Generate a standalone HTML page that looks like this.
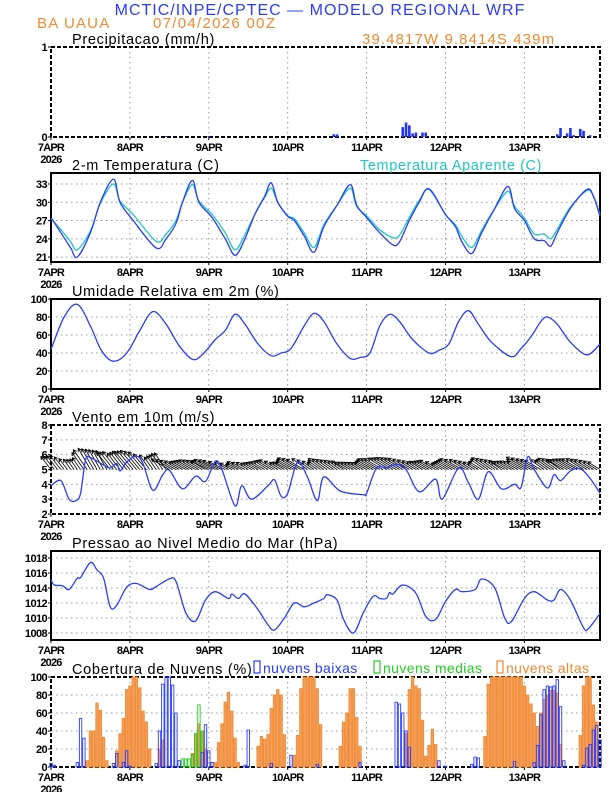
<!DOCTYPE html>
<html><head><meta charset="utf-8"><style>
html,body{margin:0;padding:0;background:#fff;}
svg{display:block;font-family:"Liberation Sans",sans-serif;}
</style></head><body>
<svg id="chart" width="612" height="792" viewBox="0 0 612 792" xmlns="http://www.w3.org/2000/svg">
<text x="320" y="15" text-anchor="middle" font-size="16" fill="#2a3cff" letter-spacing="1">MCTIC/INPE/CPTEC — MODELO REGIONAL WRF</text>
<text x="37" y="28" font-size="15" fill="#f08a30" letter-spacing="1.2">BA UAUA</text>
<text x="153" y="28" font-size="15" fill="#f08a30" letter-spacing="1.3">07/04/2026 00Z</text>
<text x="362" y="44" font-size="15" fill="#f08a30" letter-spacing="1.1">39.4817W 9.8414S 439m</text>
<g id="panels"></g>
</svg>
<script>
// ---------- data ----------
const precipHours=[35,48,86,87,107,108,109,110,111,113,114,154,155,157,158,159,161,162,164];
const precipVals=[0.01,0.01,0.03,0.03,0.11,0.16,0.13,0.04,0.05,0.05,0.05,0.03,0.10,0.04,0.10,0.02,0.09,0.07,0.02];

const tempHours=[0,3,6,8,12,15,19,21,25,32,35,38,40,43,45,49,53,56,59,62,65,67,69,72,74,77,80,83,87,91,93,96,100,104,106,109,112,115,120,123,125,128,131,135,139,141,144,147,150,152,154,158,163,165,167];
const tempVals=[27.5,25,22.5,21,25,30,33.8,30,27,22.5,24,26.5,30,33.6,30,27.5,24,21.3,24,28,31,33.2,30,27.7,27,24.5,21.8,26,29.5,32.9,29.5,27.5,25,23,23.5,27,30,32.2,28,26,23.5,21.6,25,29,32.6,29,27,24,23.7,22.8,25,29,32.1,31,27.7];
const appVals=[27.3,25.5,23.5,22.2,25.3,29.8,33.0,30.2,28,23.6,24.8,27,30,32.9,30.2,28,25,22.2,24.7,28,30.8,32.3,30,27.8,27.3,25,22.6,26.3,29.5,32.3,29.3,27.8,25.5,24.2,24.6,27.5,30.3,32.1,28,26.3,24.4,22.6,25.4,29,31.8,29.4,27.4,24.8,24.8,24,25.6,29.2,31.9,31,28];

const rhHours=[0,4,8,12,15,18,21,24,27,31,35,39,43,46,50,53,56,59,63,67,70,73,77,80,83,87,91,94,97,100,103,106,110,115,118,121,124,127,130,134,140,143,146,149,151,154,158,163,167];
const rhVals=[44,80,94,70,45,32,33,45,65,86,72,48,33,38,55,65,83,72,50,37,40,45,70,84,75,50,34,35,40,70,83,75,55,40,43,50,75,87,72,52,36,45,58,75,80,72,52,38,50];

const windHours=[0,3,5.5,7.6,9,10.5,12,16,18,20,21,23,26,28,31,34,36,40,44,47,50,52,56,58,61,66,68,70,72,75,78,81,83,88,95,96,99,102,105,108,112,117,119,124,127,130,133,137,141,143,145,147,151,153,155,158,161,164,167];
const windVals=[3.9,4.25,3.0,2.9,3.4,5.65,5.8,5.3,5.1,5.4,4.9,5.5,5.9,5.4,3.6,4.65,4.95,3.7,4.55,4.2,5.55,5.0,2.55,3.9,3.0,3.9,4.3,3.2,3.4,5.5,4.5,2.9,4.5,3.55,3.3,3.4,5.1,5.1,5.35,5.0,3.5,4.35,3.0,5.1,4.1,3.0,4.85,3.7,4.0,3.8,5.85,5.0,3.75,4.65,4.25,4.9,5.05,4.4,3.4];
const windDirDeg=[128,125,120,128,130,125,150,150,155,152,150,148,150,145,145,150,150,148,148,150,150,148,145,150,150,145,150,148]; // every 6h

const presHours=[0,1,3.5,5.5,8,9,12,14,16,18,20,23,26,30,32,36,38,41,44,47,50,54,55,57,59,63,66,68,71,74,77,80,83,84,87,89,92,95,98,100,102,103,104,107,111,114,117,120,123,125,129,131,135,138,140,144,147,151,153,155,158,162,163.5,167];
const presVals=[1015.1,1014.4,1014.3,1013.8,1015.3,1015.4,1017.4,1016.4,1015.3,1011.5,1011.7,1014.1,1014.6,1013.8,1014.2,1015.2,1014.9,1010.7,1009.6,1012.4,1013.5,1012.6,1013.2,1012.6,1013.2,1011.1,1009.1,1008.4,1010,1012,1011.5,1012,1012.6,1013.1,1012.4,1009.8,1008,1010.7,1012.9,1012.6,1012.6,1013.4,1013.2,1014.4,1013.3,1010.2,1009.8,1012.2,1013.8,1013.5,1013.8,1015.2,1014,1010,1009.5,1012.6,1013.5,1012.4,1012.4,1013.8,1012.4,1008.7,1008.6,1010.6];

const highHours=[11,12,13,14,15,16,17,20,21,22,23,24,25,26,27,28,29,30,33,34,43,44,45,46,47,50,51,52,53,54,55,56,57,63,64,65,66,67,68,69,70,71,74,75,76,77,78,79,80,81,82,88,89,90,91,92,93,94,108,109,110,111,112,113,114,115,116,117,132,133,134,135,136,137,138,139,140,141,142,143,144,145,146,147,148,149,150,151,152,153,154,155,161,162,163,164,165,166];
const highVals=[7,40,40,71,63,33,7,18,37,54,86,90,100,100,88,62,50,20,20,30,15,37,48,40,20,5,27,48,72,83,62,32,5,23,34,31,36,65,80,86,80,36,13,35,87,100,100,100,100,87,47,23,50,60,87,87,55,23,37,86,100,90,87,52,12,24,42,25,34,92,100,100,100,100,100,100,100,100,100,100,90,80,70,60,45,60,75,80,85,85,82,25,35,90,100,100,69,50];
const midHours=[40,41,42,43,44,45,46];
const midVals=[9,9,9,14,37,69,40];
const lowHours=[0,1,8,9,10,19,20,22,23,24,32,33,34,35,36,37,38,39,46,47,48,49,59,60,67,73,81,94,105,106,107,108,109,118,120,128,129,130,141,147,148,149,150,151,152,153,154,155,156,162,163,164,165,166,167];
const lowVals=[4,2,5,54,32,4,15,5,18,1,4,40,92,100,100,91,60,7,16,47,18,5,2,41,4,13,3,5,72,70,60,40,22,7,1,3,11,10,6,5,24,58,86,90,89,90,97,67,7,2,21,25,41,46,30];

const dayLabels=['7APR','8APR','9APR','10APR','11APR','12APR','13APR'];
const yTicksPrecip=[0,1], yTicksTemp=[21,24,27,30,33], yTicksRH=[0,20,40,60,80,100], yTicksWind=[2,3,4,5,6,7,8], yTicksPres=[1008,1010,1012,1014,1016,1018], yTicksCloud=[0,20,40,60,80,100];

// ---------- drawing ----------
const NS='http://www.w3.org/2000/svg';
const root=document.getElementById('panels');
const X0=51,X1=600;
function xs(h){return X0+h*(X1-X0)/167;}
function mk(tag,attrs,parent){const e=document.createElementNS(NS,tag);for(const k in attrs)e.setAttribute(k,attrs[k]);(parent||root).appendChild(e);return e;}
function ysFactory(top,bottom,vmin,vmax){return v=>bottom-(v-vmin)/(vmax-vmin)*(bottom-top);}

function panel(name,top,bottom,vmin,vmax,ticks,title,dashTop){
  const g=mk('g',{});
  
  
  const ys=ysFactory(top,bottom,vmin,vmax);
  for(let d=1;d<7;d++){const l=mk('line',{x1:xs(d*24),x2:xs(d*24),y1:top,y2:bottom,stroke:'#999','stroke-dasharray':'1.5,3.5','stroke-width':1},g);
    }
  ticks.forEach(t=>{const y=ys(t);
    if(t>vmin+1e-9&&t<vmax-1e-9){const l=mk('line',{x1:X0,x2:X1,y1:y,y2:y,stroke:'#999','stroke-dasharray':'1.5,3.5','stroke-width':1},g);
      }
    const tl=mk('text',{x:X0-4,y:y+4,'text-anchor':'end','font-size':11,'font-weight':'bold',fill:'#000','letter-spacing':'-0.6'},g);tl.textContent=t;
    
    mk('line',{x1:X0-3,x2:X0,y1:y,y2:y,stroke:'#000'},g);
  });
  const f=mk('rect',{x:X0,y:top,width:X1-X0,height:bottom-top,fill:'none',stroke:'#000','stroke-width':2},g);
  if(dashTop)f.setAttribute('stroke-dasharray','4,2');
  
  dayLabels.forEach((lab,i)=>{const x=xs(i*24);
    const t=mk('text',{x:x,y:bottom+14,'text-anchor':'middle','font-size':11,'font-weight':'bold','letter-spacing':'-0.8'},g);t.textContent=lab;
    
    mk('line',{x1:x,x2:x,y1:bottom,y2:bottom+3,stroke:'#000'},g);});
  const yr=mk('text',{x:X0,y:bottom+26,'text-anchor':'middle','font-size':11,'font-weight':'bold','letter-spacing':'-0.8'},g);yr.textContent='2026';
  
  const tt=mk('text',{x:72,y:top-3,'font-size':14.5,'letter-spacing':'0.7'},g);tt.textContent=title;
  
  return {g,ys};
}
function line(g,hours,vals,ys,color,name){
  const pts=hours.map((h,i)=>[xs(h),ys(vals[i])]);
  let d='M'+pts[0][0].toFixed(1)+','+pts[0][1].toFixed(1);
  for(let i=0;i<pts.length-1;i++){
    const p0=pts[Math.max(0,i-1)],p1=pts[i],p2=pts[i+1],p3=pts[Math.min(pts.length-1,i+2)];
    const c1=[p1[0]+(p2[0]-p0[0])/6,p1[1]+(p2[1]-p0[1])/6],c2=[p2[0]-(p3[0]-p1[0])/6,p2[1]-(p3[1]-p1[1])/6];
    d+=' C'+c1.map(v=>v.toFixed(1)).join(',')+' '+c2.map(v=>v.toFixed(1)).join(',')+' '+p2.map(v=>v.toFixed(1)).join(',');
  }
  const p=mk('path',{d:d,fill:'none',stroke:color,'stroke-width':1.3},g);
  
  
}

// precip
let P=panel('precipitation',47,137,0,1,yTicksPrecip,'Precipitacao (mm/h)',true);
precipHours.forEach((h,i)=>{const y=P.ys(precipVals[i]);
  const r=mk('rect',{x:xs(h)-1.3,y:y,width:2.6,height:137-y,fill:'#2233ff'},P.g);
  
  });

// temperature
let T=panel('temperature',173,262,20.2,34.8,yTicksTemp,'2-m Temperatura (C)',false);
line(T.g,tempHours,appVals,T.ys,'#1fc8c0','apparent-temp-line');
line(T.g,tempHours,tempVals,T.ys,'#2a3cff','temp-line');
const tl2=mk('text',{x:360,y:170,'font-size':14.5,fill:'#1fc8c0','letter-spacing':'0.6'},T.g);tl2.textContent='Temperatura Aparente (C)';



// RH
let R=panel('humidity',299,389,0,100,yTicksRH,'Umidade Relativa em 2m (%)',false);
line(R.g,rhHours,rhVals,R.ys,'#2a3cff','rh-line');

// wind
let W=panel('wind',425,514,2,8,yTicksWind,'Vento em 10m (m/s)',true);
for(let h=0;h<=167;h++){
  let k=0;while(k<windHours.length-2&&windHours[k+1]<h)k++;
  const t=(h-windHours[k])/(windHours[k+1]-windHours[k]);
  const sp=windVals[k]+(windVals[k+1]-windVals[k])*Math.max(0,Math.min(1,t));
  const dir=windDirDeg[Math.min(windDirDeg.length-1,Math.floor(h/6))]*Math.PI/180;
  const L=sp*4.2;
  const x0=xs(h),y0=W.ys(5);
  const x1=x0+L*Math.cos(dir),y1=y0-L*Math.sin(dir);
  const a=mk('line',{x1:x0,y1:y0,x2:x1,y2:y1,stroke:'#000','stroke-width':0.8},W.g);
  
  
  const ang=Math.atan2(y1-y0,x1-x0);
  const hd=mk('polyline',{points:[x1+3.5*Math.cos(ang+2.6),y1+3.5*Math.sin(ang+2.6),x1,y1,x1+3.5*Math.cos(ang-2.6),y1+3.5*Math.sin(ang-2.6)].join(','),fill:'none',stroke:'#000','stroke-width':1},W.g);
  
  
}
line(W.g,windHours,windVals,W.ys,'#2a3cff','wind-speed-line');

// pressure
let S=panel('pressure',551,640,1007.07,1018.93,yTicksPres,'Pressao ao Nivel Medio do Mar (hPa)',false);
line(S.g,presHours,presVals,S.ys,'#2a3cff','pressure-line');

// clouds
let C=panel('cloud',677,767,0,100,yTicksCloud,'Cobertura de Nuvens (%)',true);
function bars(hours,vals,fill,stroke,name){hours.forEach((h,i)=>{const y=C.ys(vals[i]);
  const r=mk('rect',{x:xs(h)-1.2,y:y,width:2.4,height:767-y,fill:fill,stroke:stroke,'stroke-width':0.9},C.g);
  
  });}
bars(highHours,highVals,'#f3a060','#f08a30','high-cloud-bar');
bars(midHours,midVals,'none','#22cc22','mid-cloud-bar');
bars(lowHours,lowVals,'none','#2a3cff','low-cloud-bar');
const leg=[['nuvens baixas','#2a3cff',254],['nuvens medias','#22cc22',374],['nuvens altas','#f08a30',497]];
leg.forEach(l=>{const r=mk('rect',{x:l[2],y:661,width:6,height:12,fill:'none',stroke:l[1],'stroke-width':1.2},C.g);
  
  const t=mk('text',{x:l[2]+9,y:673,'font-size':14,fill:l[1],'letter-spacing':'0.4'},C.g);t.textContent=l[0];
  });
</script>
</body></html>
